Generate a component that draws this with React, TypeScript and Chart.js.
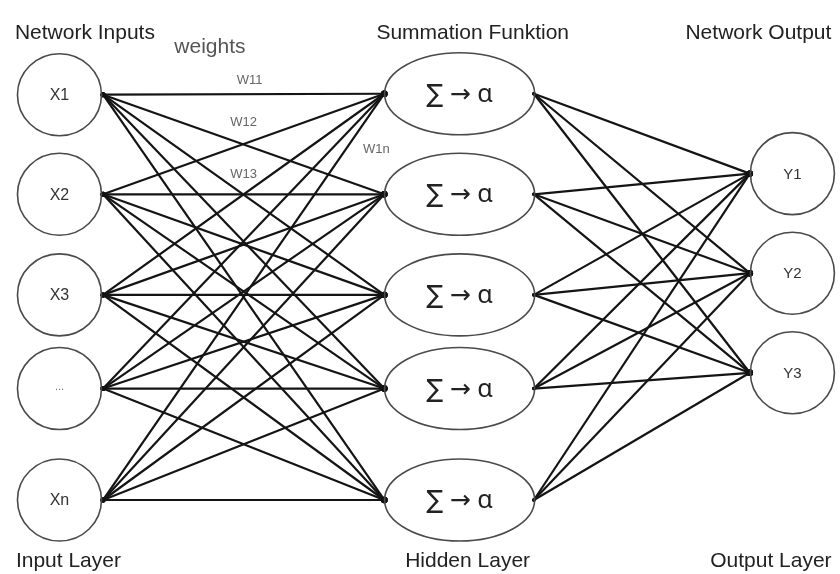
import React, { useEffect, useRef } from "react";
import { Chart, registerables } from "chart.js";

Chart.register(...registerables);

// ---- Diagram data ----
const inputLabels = ["X1", "X2", "X3", "...", "Xn"];
const inputY = [92, 193, 295, 390, 503];
const hiddenLabels = ["∑ → α", "∑ → α", "∑ → α", "∑ → α", "∑ → α"];
const hiddenY = [91, 193, 295, 390, 503];
const outputLabels = ["Y1", "Y2", "Y3"];
const outputY = [172, 273, 374];

// layer x anchors (centre of node, connection point left/right)
const inputX = 56;
const hiddenX = 460;
const outputX = 796;
const inputRight = 100;
const hiddenLeft = 384;
const hiddenRight = 535;
const outputLeft = 753;

const headerLabels = ["Network Inputs", "Summation Funktion", "Network Output"];
const headerX = [11, 376, 688];
const footerLabels = ["Input Layer", "Hidden Layer", "Output Layer"];
const footerX = [12, 405, 713];
const weightLabels = ["W11", "W12", "W13", "W1n"];
const weightX = [248, 242, 242, 376];
const weightY = [77, 120, 173, 147];

export default function App() {
  const ref = useRef<HTMLCanvasElement | null>(null);

  useEffect(() => {
    if (!ref.current) return;
    const datasets: any[] = [];
    inputY.forEach((yi) => {
      hiddenY.forEach((yj) => {
        datasets.push({
          data: [
            { x: inputRight, y: yi },
            { x: hiddenLeft, y: yj },
          ],
          showLine: true,
          borderColor: "#141414",
          borderWidth: 2.2,
          pointRadius: [2.5, 3.2],
          pointBackgroundColor: "#111",
          pointBorderWidth: 0,
        });
      });
    });
    hiddenY.forEach((yj) => {
      outputY.forEach((yk) => {
        datasets.push({
          data: [
            { x: hiddenRight, y: yj },
            { x: outputLeft, y: yk },
          ],
          showLine: true,
          borderColor: "#141414",
          borderWidth: 2.2,
          pointRadius: [1.8, 3.2],
          pointBackgroundColor: "#111",
          pointBorderWidth: 0,
        });
      });
    });

    const nodesPlugin = {
      id: "nodes",
      afterDatasetsDraw(chart: any) {
        const ctx = chart.ctx as CanvasRenderingContext2D;
        const xs = chart.scales.x;
        const ys = chart.scales.y;
        const px = (v: number) => xs.getPixelForValue(v);
        const py = (v: number) => ys.getPixelForValue(v);
        const ell = (cx: number, cy: number, rx: number, ry: number) => {
          ctx.beginPath();
          ctx.ellipse(px(cx), py(cy), rx, ry, 0, 0, Math.PI * 2);
          ctx.strokeStyle = "#4a4a4a";
          ctx.lineWidth = 1.6;
          ctx.stroke();
        };
        ctx.save();
        ctx.textAlign = "center";
        ctx.textBaseline = "middle";
        inputY.forEach((y, i) => {
          ell(inputX, y, 42, 41);
          ctx.fillStyle = i === 3 ? "#777" : "#333";
          ctx.font = i === 3 ? "11px 'Liberation Sans', Arial" : "16px 'Liberation Sans', Arial";
          ctx.fillText(inputLabels[i], px(inputX), py(y) + (i === 3 ? -2 : 1));
        });
        hiddenY.forEach((y, i) => {
          ell(hiddenX, y, 75, 41);
          ctx.fillStyle = "#222";
          ctx.font = "25px 'Noto Sans', 'DejaVu Sans'";
          ctx.fillText(hiddenLabels[i], px(hiddenX), py(y) + 1);
        });
        outputY.forEach((y, i) => {
          ell(outputX, y, 42, 41);
          ctx.fillStyle = "#333";
          ctx.font = "15px 'Liberation Sans', Arial";
          ctx.fillText(outputLabels[i], px(outputX), py(y) + 1);
        });
        ctx.textAlign = "left";
        ctx.textBaseline = "alphabetic";
        ctx.fillStyle = "#222";
        ctx.font = "21px 'Liberation Sans', Arial";
        headerLabels.forEach((t, i) => ctx.fillText(t, px(headerX[i]), py(35)));
        footerLabels.forEach((t, i) => ctx.fillText(t, px(footerX[i]), py(571)));
        ctx.fillStyle = "#555";
        ctx.fillText("weights", px(172), py(50));
        ctx.textAlign = "center";
        ctx.textBaseline = "middle";
        ctx.fillStyle = "#666";
        ctx.font = "13px 'Liberation Sans', Arial";
        weightLabels.forEach((t, i) => ctx.fillText(t, px(weightX[i]), py(weightY[i])));
        ctx.restore();
      },
    };

    const chart = new Chart(ref.current, {
      type: "scatter",
      data: { datasets },
      options: {
        responsive: false,
        animation: false,
        maintainAspectRatio: false,
        layout: { padding: 0 },
        plugins: { legend: { display: false }, tooltip: { enabled: false } },
        scales: {
          x: { type: "linear", min: 0, max: 840, display: false },
          y: { type: "linear", min: 0, max: 574, reverse: true, display: false },
        },
      },
      plugins: [nodesPlugin],
    });
    return () => chart.destroy();
  }, []);

  return (
    <div style={{ position: "fixed", left: 0, top: 0, width: 840, height: 574, background: "#fff" }}>
      <canvas ref={ref} width={840} height={574} style={{ width: 840, height: 574, display: "block" }} />
    </div>
  );
}
